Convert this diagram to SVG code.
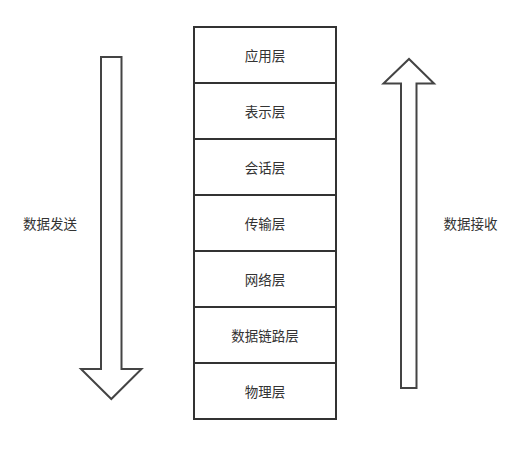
<svg xmlns="http://www.w3.org/2000/svg" width="523" height="465" viewBox="0 0 523 465">
<style>
.box{fill:#fff;stroke:#333;stroke-width:2}
.arrow{fill:#fff;stroke:#444;stroke-width:2;stroke-linejoin:miter}
text{font-family:"Noto Sans CJK SC","Noto Sans",sans-serif;font-size:13.5px;fill:#333;text-anchor:middle;dominant-baseline:central}
</style>
<rect width="523" height="465" fill="#fff"/>
<g id="layer-app"><rect class="box" x="194" y="27" width="142" height="56"/><text x="265" y="55">应用层</text></g>
<g id="layer-presentation"><rect class="box" x="194" y="83" width="142" height="56"/><text x="265" y="111">表示层</text></g>
<g id="layer-session"><rect class="box" x="194" y="139" width="142" height="56"/><text x="265" y="167">会话层</text></g>
<g id="layer-transport"><rect class="box" x="194" y="195" width="142" height="56"/><text x="265" y="223">传输层</text></g>
<g id="layer-network"><rect class="box" x="194" y="251" width="142" height="56"/><text x="265" y="279">网络层</text></g>
<g id="layer-datalink"><rect class="box" x="194" y="307" width="142" height="56"/><text x="265" y="335">数据链路层</text></g>
<g id="layer-physical"><rect class="box" x="194" y="363" width="142" height="56"/><text x="265" y="391">物理层</text></g>
<g id="connectors">
<polygon class="arrow" points="101,57 121.5,57 121.5,369 141.5,369 111.3,399 81,369 101,369"/>
<polygon class="arrow" points="401,388 416.5,388 416.5,83.5 434,83.5 409,59 383.5,83.5 401,83.5"/>
</g>
<g id="label-send"><text x="50" y="223">数据发送</text></g>
<g id="label-receive"><text x="470.5" y="223">数据接收</text></g>
</svg>
